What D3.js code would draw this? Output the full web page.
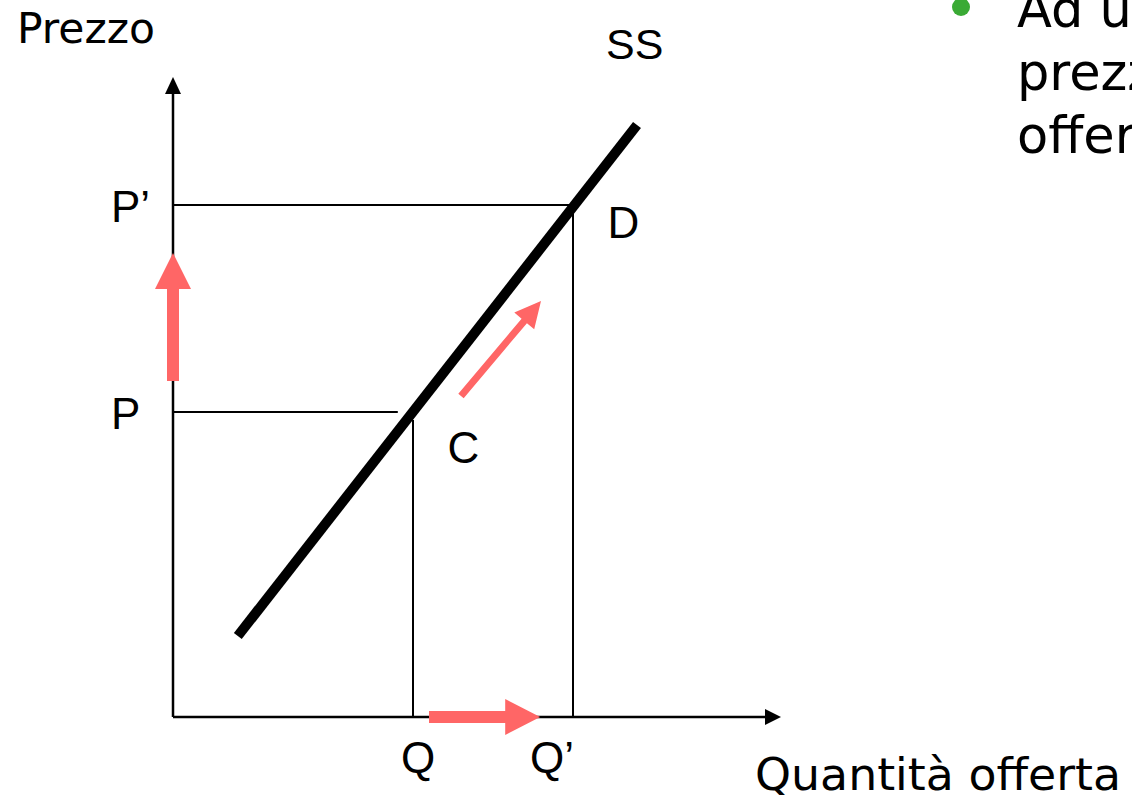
<!DOCTYPE html>
<html>
<head>
<meta charset="utf-8">
<script src="https://cdn.jsdelivr.net/npm/d3@7"></script>
<style>
  html, body { margin: 0; padding: 0; background: #fff; }
  svg { display: block; }
</style>
</head>
<body>
<script>
// ---- data (arbitrary units: quantity on x, price on y) ----
const quantities = [3, 5];                 // Q, Q'
const quantityLabels = ["Q", "Q\u2019"];
const prices = [3.05, 5.12];               // P, P'
const priceLabels = ["P", "P\u2019"];
const supplyCurve = [[0.81, 0.81], [5.8, 5.92]];   // SS line endpoints
const supplyLabel = "SS";
const pointLabels = ["C", "D"];
const axisMax = [7.6, 6.4];                // x max, y max
const arrowUp = [[0, 3.36], [0, 4.64]];
const arrowRight = [[3.2, 0], [4.59, 0]];
const arrowDiag = [[3.6, 3.21], [4.6, 4.16]];
const bulletLines = ["Ad un aumento del", "prezzo corrisponde", "offerta"];
const yTitle = "Prezzo";
const xTitle = "Quantit\u00e0 offerta";

const W = 1132, H = 795;
const svg = d3.select("body").append("svg").attr("width", W).attr("height", H);

const x = d3.scaleLinear().domain([0, axisMax[0]]).range([173, 781]);
const y = d3.scaleLinear().domain([0, axisMax[1]]).range([717, 77]);

const red = "#FF6666";
const labelFont = "'Liberation Sans', Arial, sans-serif";
const titleFont = "'DejaVu Sans', sans-serif";

// guide lines
const g = svg.append("g");
// P horizontal (stops short of the supply line)
g.append("line").attr("x1", x(0)).attr("x2", x(2.81))
  .attr("y1", y(prices[0])).attr("y2", y(prices[0]))
  .attr("stroke", "#000").attr("stroke-width", 2);
// P' horizontal up to Q'
g.append("line").attr("x1", x(0)).attr("x2", x(quantities[1]))
  .attr("y1", y(prices[1])).attr("y2", y(prices[1]))
  .attr("stroke", "#000").attr("stroke-width", 2);
// Q vertical (stops just below supply line)
g.append("line").attr("x1", x(quantities[0])).attr("x2", x(quantities[0]))
  .attr("y1", y(0)).attr("y2", y(2.97))
  .attr("stroke", "#000").attr("stroke-width", 2);
// Q' vertical
g.append("line").attr("x1", x(quantities[1])).attr("x2", x(quantities[1]))
  .attr("y1", y(0)).attr("y2", y(prices[1]))
  .attr("stroke", "#000").attr("stroke-width", 2);

// axes
g.append("line").attr("x1", x(0)).attr("x2", x(0)).attr("y1", y(0)).attr("y2", y(axisMax[1]) + 10)
  .attr("stroke", "#000").attr("stroke-width", 2.5);
g.append("line").attr("x1", x(0)).attr("x2", x(axisMax[0]) - 10).attr("y1", y(0)).attr("y2", y(0))
  .attr("stroke", "#000").attr("stroke-width", 2.5);
// axis arrowheads
const ty = [x(0), y(axisMax[1])];
g.append("path").attr("d", `M${ty[0]},${ty[1]} L${ty[0]-8},${ty[1]+17} L${ty[0]+8},${ty[1]+17} Z`).attr("fill", "#000");
const tx = [x(axisMax[0]), y(0)];
g.append("path").attr("d", `M${tx[0]},${tx[1]} L${tx[0]-16},${tx[1]-8} L${tx[0]-16},${tx[1]+8} Z`).attr("fill", "#000");

// supply curve
svg.append("path")
  .datum(supplyCurve)
  .attr("d", d3.line().x(d => x(d[0])).y(d => y(d[1])))
  .attr("stroke", "#000").attr("stroke-width", 10).attr("fill", "none").attr("stroke-linecap", "butt");

// block arrow builder
function blockArrow(p0, p1, shaftW, headW, headL) {
  const x0 = x(p0[0]), y0 = y(p0[1]), x1 = x(p1[0]), y1 = y(p1[1]);
  const dx = x1 - x0, dy = y1 - y0, len = Math.hypot(dx, dy);
  const ux = dx / len, uy = dy / len, nx = -uy, ny = ux;
  const bx = x1 - ux * headL, by = y1 - uy * headL;
  const pts = [
    [x0 + nx * shaftW / 2, y0 + ny * shaftW / 2],
    [bx + nx * shaftW / 2, by + ny * shaftW / 2],
    [bx + nx * headW / 2, by + ny * headW / 2],
    [x1, y1],
    [bx - nx * headW / 2, by - ny * headW / 2],
    [bx - nx * shaftW / 2, by - ny * shaftW / 2],
    [x0 - nx * shaftW / 2, y0 - ny * shaftW / 2]
  ];
  return "M" + pts.map(p => p.join(",")).join("L") + "Z";
}
svg.append("path").attr("d", blockArrow(arrowUp[0], arrowUp[1], 12, 36, 36)).attr("fill", red);
svg.append("path").attr("d", blockArrow(arrowRight[0], arrowRight[1], 12, 36, 35)).attr("fill", red);
svg.append("path").attr("d", blockArrow(arrowDiag[0], arrowDiag[1], 7, 26, 26)).attr("fill", red);

// labels
const lab = svg.append("g").attr("font-family", labelFont).attr("font-size", 44).attr("fill", "#000");
priceLabels.forEach((t, i) => {
  lab.append("text").attr("x", x(0) - 62).attr("y", y(prices[i]) + 17).text(t);
});
const qOffsets = [-12, -43];
quantityLabels.forEach((t, i) => {
  lab.append("text").attr("x", x(quantities[i]) + qOffsets[i]).attr("y", y(0) + 56).text(t);
});
lab.append("text").attr("x", x(3.43)).attr("y", y(prices[0]) + 51).text(pointLabels[0]);
lab.append("text").attr("x", x(5.43)).attr("y", y(prices[1]) + 33).text(pointLabels[1]);
lab.append("text").attr("x", 606).attr("y", 59).attr("font-size", 43).text(supplyLabel);

// titles
svg.append("text").attr("x", 17).attr("y", 43).attr("font-family", titleFont).attr("font-size", 42)
  .attr("textLength", 138).attr("lengthAdjust", "spacingAndGlyphs").text(yTitle);
svg.append("text").attr("x", 755).attr("y", 790).attr("font-family", titleFont).attr("font-size", 45)
  .attr("textLength", 366).attr("lengthAdjust", "spacingAndGlyphs").text(xTitle);

// bullet text (clipped by the page edge, as in the reference)
svg.append("circle").attr("cx", 961).attr("cy", 7).attr("r", 9).attr("fill", "#3AAA35");
const bt = svg.append("g").attr("font-family", titleFont).attr("font-size", 51).attr("fill", "#000");
bulletLines.forEach((t, i) => {
  bt.append("text").attr("x", 1017).attr("y", 27 + i * 63).text(t);
});
</script>
</body>
</html>
